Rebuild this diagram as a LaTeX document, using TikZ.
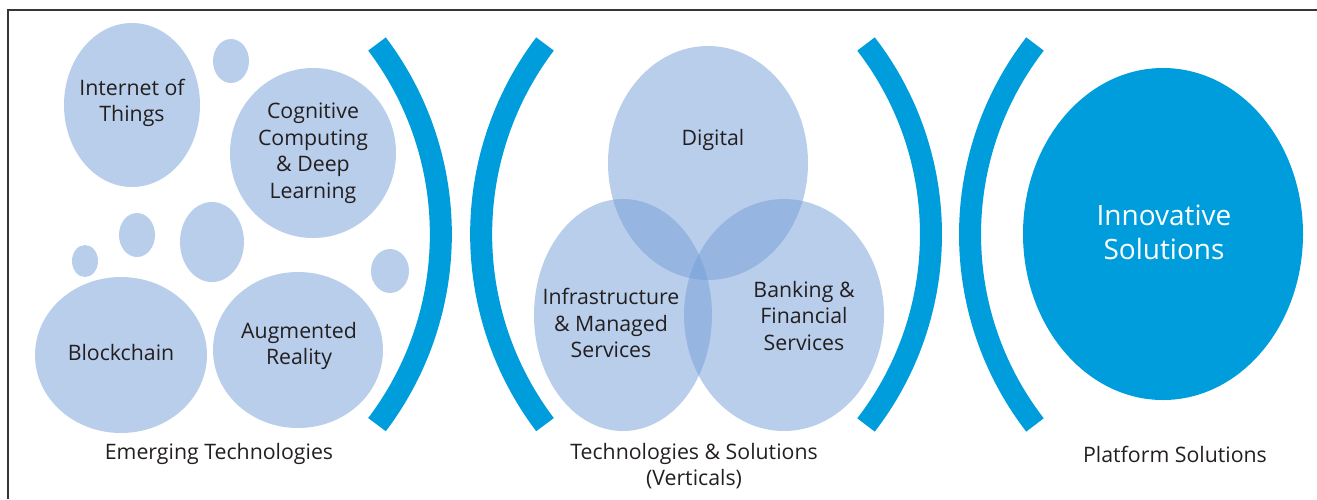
\documentclass[tikz,border=0pt]{standalone}
\usepackage{fontspec}
\setmainfont{Open Sans}
\usetikzlibrary{positioning}
\definecolor{bubble}{RGB}{185,206,235}
\definecolor{venn}{RGB}{115,157,215}
\definecolor{brand}{RGB}{0,157,220}
\definecolor{ink}{RGB}{35,31,32}

\begin{document}
\begin{tikzpicture}[
    x=1pt, y=-1pt,
    lbl/.style={text=ink, align=center, font=\fontsize{21.3}{26.5}\selectfont},
    bracket/.style={draw=brand, line width=22pt},
    vennfill/.style={fill=venn, fill opacity=0.5}
]
    \useasboundingbox (0,0) rectangle (1317,499);
    \draw[ink!90, line width=1.5pt] (8,499) -- (8,10) -- (1317,10);

    % emerging technologies
    \fill[bubble] (132,105) ellipse [x radius=68, y radius=82];
    \fill[bubble] (231,61) ellipse [x radius=18, y radius=22];
    \fill[bubble] (313,153) ellipse [x radius=83, y radius=85];
    \fill[bubble] (85,261) ellipse [x radius=13, y radius=16];
    \fill[bubble] (137,235) ellipse [x radius=18, y radius=22];
    \fill[bubble] (212,242) ellipse [x radius=32, y radius=40];
    \fill[bubble] (390,271) ellipse [x radius=19, y radius=22];
    \fill[bubble] (121,355) ellipse [x radius=86, y radius=78];
    \fill[bubble] (298,350) ellipse [x radius=85, y radius=78];
    \node[lbl] (iot) at (132,103) {Internet of\\Things};
    \node[lbl] (cog) at (313,153) {Cognitive\\Computing\\\& Deep\\Learning};
    \node[lbl] (chain) at (121,353) {Blockchain};
    \node[lbl] (ar) at (299,346) {Augmented\\Reality};

    % brackets
    \draw[bracket] (377,44) arc[start angle=-37.1, end angle=37.1, radius=315.5];
    \draw[bracket] (545,44) arc[start angle=217.1, end angle=142.9, radius=315.5];
    \draw[bracket] (866,44) arc[start angle=-37.67, end angle=37.67, radius=311.7];
    \draw[bracket] (1035,44) arc[start angle=217.67, end angle=142.33, radius=311.7];

    % verticals
    \fill[vennfill] (708,163) ellipse [x radius=100, y radius=117];
    \fill[vennfill] (623,315) ellipse [x radius=89, y radius=116];
    \fill[vennfill] (784,315) ellipse [x radius=100, y radius=116];
    \node[lbl] (digital) at (713,140) {Digital};
    \node[lbl] (infra) at (611,323) {Infrastructure\\\& Managed\\Services};
    \node[lbl] (bank) at (804,316) {Banking \&\\Financial\\Services};

    % platform
    \fill[brand] (1163,234) ellipse [x radius=140, y radius=166];
    \node[lbl, text=white, font=\fontsize{28}{34}\selectfont] (innov) at (1164,232) {Innovative\\Solutions};

    % captions
    \node[lbl] (emerg) at (219,454) {Emerging Technologies};
    \node[lbl] (techsol) at (694,466) {Technologies \& Solutions\\(Verticals)};
    \node[lbl] (platform) at (1175,454) {Platform Solutions};
\end{tikzpicture}
\end{document}
